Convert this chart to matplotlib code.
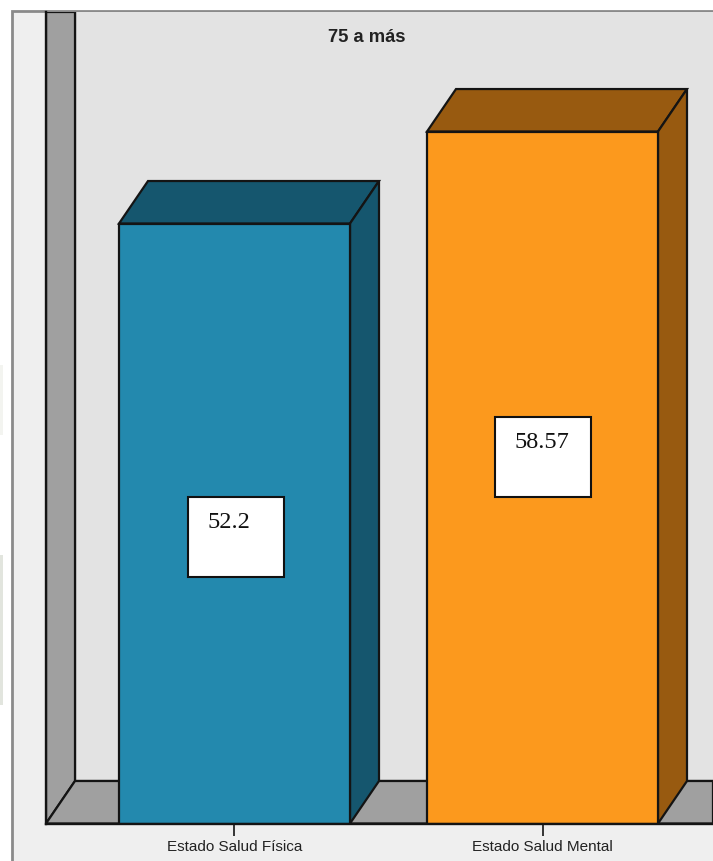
import matplotlib
matplotlib.use("Agg")
import matplotlib.pyplot as plt
from matplotlib.patches import Polygon, Rectangle

categories = ["Estado Salud Física", "Estado Salud Mental"]
values = [52.2, 58.57]
value_labels = ["52.2", "58.57"]
front_colors = ["#2389AE", "#FC991D"]
shade_colors = ["#15566E", "#985A10"]
title = "75 a más"

W, H = 713, 861
PX_X = 308.0        # pixels per category
PX_Y = 14.44        # pixels per value unit
Y0 = 10.65          # value at the baseline
BASE, TOP, LEFT = 823.5, 12, 46
DX, DY = 29 / PX_X, 42.5 / PX_Y
BAR_W = 231 / PX_X
INK = "#141414"
LW = 1.6
SANS = ["Liberation Sans", "DejaVu Sans"]

fig = plt.figure(figsize=(W / 100, H / 100), dpi=100, facecolor="white")

# Backdrop in pixel coordinates
bg = fig.add_axes([0, 0, 1, 1], zorder=0)
bg.set_xlim(0, W)
bg.set_ylim(H, 0)
bg.axis("off")
bg.add_patch(Rectangle((11.5, 11), W, H, fc="#EFEFEF", ec="#8A8A8A", lw=2.0))
bg.add_patch(Rectangle((0, 365), 2.5, 70, fc="#F3F4F0", ec="none"))
bg.add_patch(Rectangle((0, 555), 3, 150, fc="#E2E5DE", ec="none"))

# Chart axes mapped so the category and value scales land on the plot area
ax = fig.add_axes([LEFT / W, 1 - BASE / H, (W - LEFT) / W, (BASE - TOP) / H], zorder=1)
ax.patch.set_alpha(0)
ax.set_xlim((LEFT - 234.5) / PX_X, (W - 234.5) / PX_X)
ax.set_ylim(Y0, Y0 + (BASE - TOP) / PX_Y)
x0, x1 = ax.get_xlim()
y0, y1 = ax.get_ylim()

# Back wall, side wall, floor
ax.add_patch(Rectangle((x0 + DX, y0 + DY), x1 - x0, y1 - y0, fc="#E3E3E3", ec=INK, lw=LW, zorder=1))
ax.add_patch(Polygon([(x0, y0), (x0 + DX, y0 + DY), (x0 + DX, y1), (x0, y1)],
                     fc="#A0A0A0", ec=INK, lw=LW, zorder=2))
ax.add_patch(Polygon([(x0, y0), (x0 + DX, y0 + DY), (x1, y0 + DY), (x1, y0)],
                     fc="#A0A0A0", ec=INK, lw=LW, zorder=2))

# Bars
xs = list(range(len(values)))
ax.bar(xs, [v - Y0 for v in values], bottom=Y0, width=BAR_W, color=front_colors,
       edgecolor=INK, linewidth=LW, zorder=5)
for x, v, c in zip(xs, values, shade_colors):
    l, r = x - BAR_W / 2, x + BAR_W / 2
    ax.add_patch(Polygon([(l, v), (l + DX, v + DY), (r + DX, v + DY), (r, v)],
                         fc=c, ec=INK, lw=LW, zorder=4))
    ax.add_patch(Polygon([(r, v), (r + DX, v + DY), (r + DX, Y0 + DY), (r, Y0)],
                         fc=c, ec=INK, lw=LW, zorder=4))

for s in ("top", "right"):
    ax.spines[s].set_visible(False)
for s in ("left", "bottom"):
    ax.spines[s].set_linewidth(1.7)
    ax.spines[s].set_color(INK)
    ax.spines[s].set_zorder(6)
ax.set_yticks([])
ax.set_xticks(xs)
ax.set_xticklabels(categories, family=SANS, fontsize=11.0, color="#222222")
ax.tick_params(axis="x", length=8.5, width=1.2, color=INK, pad=3.5)

# Value boxes, placed in pixels on the overlay
fg = fig.add_axes([0, 0, 1, 1], zorder=2)
fg.set_xlim(0, W)
fg.set_ylim(H, 0)
fg.axis("off")
boxes = [(187.5, 497, 96, 80, 228.5, 523), (494.5, 417, 96, 80, 541.5, 443)]
for (bx, by, bw, bh, tx, ty), lab in zip(boxes, value_labels):
    fg.add_patch(Rectangle((bx, by), bw, bh, fc="white", ec="#111111", lw=1.5))
    fg.text(tx, ty, lab, family="Liberation Serif", fontsize=17.5, color="#111111",
            ha="center", va="center")
fg.text(367, 37, title, family=SANS, fontsize=13.2, fontweight="bold", color="#222222",
        ha="center", va="center")

fig.savefig("out.png", dpi=100)
